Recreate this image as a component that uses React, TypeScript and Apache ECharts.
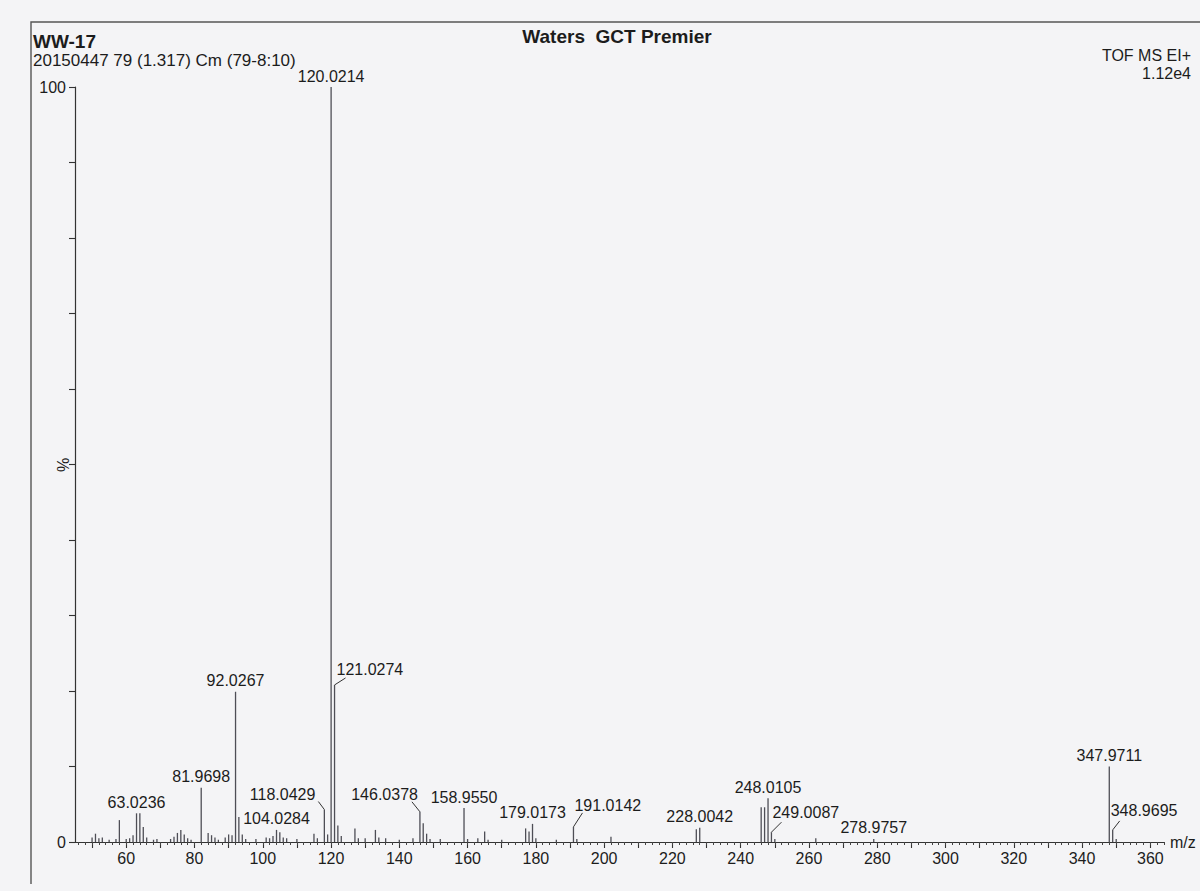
import React, { useEffect, useRef } from "react";
import * as echarts from "echarts";

// ---- Data ----
const labeledMz = [
  63.0236, 81.9698, 92.0267, 104.0284, 118.0429, 120.0214, 121.0274, 146.0378,
  158.955, 179.0173, 191.0142, 228.0042, 248.0105, 249.0087, 278.9757, 347.9711, 348.9695,
];
const labeledIntensity = [
  3.8, 7.2, 19.9, 1.6, 4.3, 100, 20.8, 4.0,
  4.5, 2.4, 2.0, 1.9, 5.8, 1.3, 0.4, 10.0, 1.6,
];

const minorMz = [
  50, 51, 52, 53, 55, 57, 58, 60, 61, 62, 64, 65, 66, 68, 69, 73, 74, 75, 76, 77, 78, 79,
  84, 85, 86, 87, 89, 90, 91, 93, 94, 95, 98, 101, 102, 103, 105, 106, 107, 110, 115, 116,
  119, 122, 123, 127, 128, 130, 133, 134, 136, 140, 144, 147, 148, 149, 152, 160, 163, 165,
  166, 170, 177, 178, 180, 186, 192, 202, 227, 246, 247, 250, 262, 350,
];
const minorIntensity = [
  0.6, 1.1, 0.5, 0.6, 0.3, 0.4, 2.9, 0.4, 0.5, 0.9, 3.8, 2.0, 0.6, 0.3, 0.4, 0.4, 0.7, 1.2, 1.6, 1.0, 0.5, 0.3,
  1.2, 0.9, 0.6, 0.3, 0.6, 1.0, 0.9, 3.3, 1.0, 0.4, 0.4, 0.6, 0.5, 0.8, 1.3, 0.6, 0.5, 0.4, 1.1, 0.5,
  1.0, 2.2, 0.8, 1.8, 0.5, 0.5, 1.6, 0.6, 0.5, 0.3, 0.5, 2.5, 1.1, 0.4, 0.4, 0.4, 0.5, 1.4,
  0.3, 0.3, 1.8, 1.4, 0.5, 0.3, 0.4, 0.7, 1.7, 4.6, 4.6, 0.4, 0.5, 0.4,
];

const xTickLabels = [60, 80, 100, 120, 140, 160, 180, 200, 220, 240, 260, 280, 300, 320, 340, 360];
const yTickLabels = [0, 100];

// ---- Layout of leader-line labels (pixel offsets from the peak top) ----
const leaderLayout: Record<string, { side: number; ex: number; ey: number; tx: number; ty: number }> = {
  "121.0274": { side: 1, ex: 11, ey: -7, tx: 2, ty: -15 },
  "118.0429": { side: -1, ex: -6, ey: -8, tx: -9, ty: -15 },
  "146.0378": { side: -1, ex: -8, ey: -10, tx: -2, ty: -17 },
  "191.0142": { side: 1, ex: 9, ey: -14, tx: 1, ty: -21 },
  "249.0087": { side: 1, ex: 10, ey: -10, tx: 1, ty: -20 },
  "348.9695": { side: 1, ex: 7, ey: -9, tx: -2, ty: -19 },
};

const FONT = "'Liberation Sans', Arial, Helvetica, sans-serif";
const TEXT = "#1c1c1c";
const STICK = "#4e4e56";

export default function App() {
  const ref = useRef<HTMLDivElement>(null);

  useEffect(() => {
    if (!ref.current) return;
    const chart = echarts.init(ref.current, undefined, { renderer: "svg" });

    const sticks = [
      ...minorMz.map((m, i) => [m, minorIntensity[i]]),
      ...labeledMz.map((m, i) => [m, labeledIntensity[i]]),
    ];
    const labelData = labeledMz.map((m, i) => [m, labeledIntensity[i]]);

    const minorTicks: number[] = [];
    for (let v = 46; v <= 364; v += 2) minorTicks.push(v);
    const majorTicks: number[] = [];
    for (let v = 50; v <= 360; v += 10) majorTicks.push(v);

    const option: any = {
      animation: false,
      backgroundColor: "#f4f4f6",
      grid: { left: 75, right: 36, top: 87, bottom: 49, outerBoundsMode: "none" },
      xAxis: [
        {
          type: "value",
          min: 45,
          max: 364,
          name: "m/z",
          nameLocation: "end",
          nameGap: 6,
          nameTextStyle: { fontFamily: FONT, fontSize: 16, color: TEXT, padding: [0, 0, 14, 0] },
          axisLine: { show: true, lineStyle: { color: "#333", width: 1.2 } },
          axisTick: { show: true, customValues: majorTicks, length: 6, lineStyle: { color: "#333", width: 1.1 } },
          axisLabel: { customValues: xTickLabels, fontFamily: FONT, fontSize: 16, color: TEXT, margin: 8 },
          splitLine: { show: false },
        },
        {
          type: "value",
          min: 45,
          max: 364,
          position: "bottom",
          axisLine: { show: false },
          axisTick: { show: true, customValues: minorTicks, length: 3, lineStyle: { color: "#444", width: 1 } },
          axisLabel: { show: false },
          splitLine: { show: false },
        },
      ],
      yAxis: {
        type: "value",
        min: 0,
        max: 100,
        interval: 10,
        axisLine: { show: true, lineStyle: { color: "#333", width: 1.2 } },
        axisTick: { show: true, length: 6, lineStyle: { color: "#333", width: 1.1 } },
        axisLabel: { customValues: yTickLabels, fontFamily: FONT, fontSize: 16, color: TEXT, margin: 9 },
        splitLine: { show: false },
      },
      series: [
        {
          type: "custom",
          name: "peaks",
          xAxisIndex: 0,
          yAxisIndex: 0,
          clip: false,
          data: sticks,
          encode: { x: 0, y: 1 },
          renderItem: (params: any, api: any) => {
            const x = api.value(0);
            const y = api.value(1);
            const p0 = api.coord([x, 0]);
            const p1 = api.coord([x, y]);
            return {
              type: "line",
              shape: { x1: p0[0], y1: p0[1], x2: p1[0], y2: p1[1] },
              style: { stroke: STICK, lineWidth: 1.3 },
            };
          },
        },
        {
          type: "custom",
          name: "labels",
          xAxisIndex: 0,
          yAxisIndex: 0,
          clip: false,
          data: labelData,
          encode: { x: 0, y: 1 },
          renderItem: (params: any, api: any) => {
            const x = api.value(0);
            const y = api.value(1);
            const p = api.coord([x, y]);
            const text = labeledMz[params.dataIndex].toFixed(4);
            const lay = leaderLayout[text];
            const textStyle = { fontFamily: FONT, fontSize: 16, fill: TEXT };
            if (!lay) {
              return {
                type: "text",
                style: { ...textStyle, text, x: p[0], y: p[1] - 11, align: "center", verticalAlign: "middle" },
              };
            }
            return {
              type: "group",
              children: [
                {
                  type: "line",
                  shape: { x1: p[0], y1: p[1], x2: p[0] + lay.ex, y2: p[1] + lay.ey },
                  style: { stroke: "#333", lineWidth: 1 },
                },
                {
                  type: "text",
                  style: {
                    ...textStyle,
                    text,
                    x: p[0] + lay.tx,
                    y: p[1] + lay.ty,
                    align: lay.side > 0 ? "left" : "right",
                    verticalAlign: "middle",
                  },
                },
              ],
            };
          },
        },
      ],
      graphic: [
        {
          type: "polyline",
          shape: { points: [[31, 884], [31, 22], [1200, 22]] },
          style: { stroke: "#555", lineWidth: 1.4, fill: "none" },
          silent: true,
        },
        {
          type: "text",
          x: 63,
          y: 465,
          rotation: Math.PI / 2,
          style: { text: "%", fontFamily: FONT, fontSize: 16, fill: TEXT, align: "center", verticalAlign: "middle" },
        },
        {
          type: "text",
          x: 33,
          y: 41,
          style: { text: "WW-17", fontFamily: FONT, fontSize: 19, fontWeight: "bold", fill: TEXT, verticalAlign: "middle" },
        },
        {
          type: "text",
          x: 33,
          y: 60,
          style: { text: "20150447 79 (1.317) Cm (79-8:10)", fontFamily: FONT, fontSize: 17, fill: TEXT, verticalAlign: "middle" },
        },
        {
          type: "text",
          x: 617,
          y: 36,
          style: {
            text: "Waters  GCT Premier",
            fontFamily: FONT,
            fontSize: 19,
            fontWeight: "bold",
            fill: TEXT,
            align: "center",
            verticalAlign: "middle",
          },
        },
        {
          type: "text",
          x: 1191,
          y: 55,
          style: { text: "TOF MS EI+", fontFamily: FONT, fontSize: 16, fill: TEXT, align: "right", verticalAlign: "middle" },
        },
        {
          type: "text",
          x: 1191,
          y: 73,
          style: { text: "1.12e4", fontFamily: FONT, fontSize: 16, fill: TEXT, align: "right", verticalAlign: "middle" },
        },
      ],
    };

    chart.setOption(option);
    return () => chart.dispose();
  }, []);

  return (
    <div
      ref={ref}
      style={{ position: "fixed", left: 0, top: 0, width: 1200, height: 891 }}
    />
  );
}
